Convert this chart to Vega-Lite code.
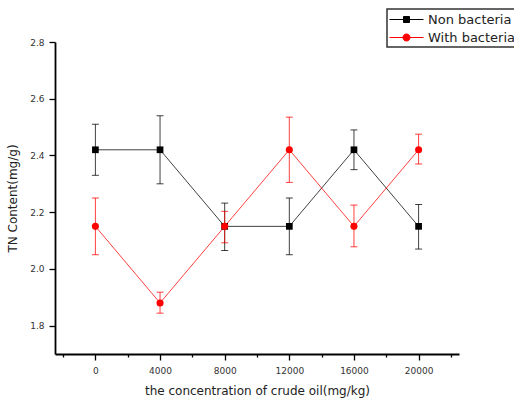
{
  "$schema": "https://vega.github.io/schema/vega-lite/v6.json",
  "width": 404,
  "height": 312,
  "autosize": "none",
  "padding": {"left": 55, "top": 42, "right": 55, "bottom": 50},
  "background": "white",
  "config": {
    "view": {"stroke": null},
    "axis": {
      "grid": false,
      "domainColor": "#000",
      "domainWidth": 1.8,
      "tickColor": "#000",
      "tickWidth": 1.3,
      "labelFont": "DejaVu Sans",
      "labelFontSize": 9,
      "labelColor": "#333",
      "titleFont": "DejaVu Sans",
      "titleFontSize": 12,
      "titleFontWeight": "normal",
      "titleColor": "#222"
    },
    "legend": {
      "orient": "none",
      "legendX": 332,
      "legendY": -33,
      "strokeColor": "#333",
      "strokeWidth": 1.5,
      "padding": 2,
      "symbolSize": 256,
      "symbolOpacity": 1,
      "symbolStrokeWidth": 1,
      "labelFont": "DejaVu Sans",
      "labelFontSize": 13,
      "labelColor": "#222",
      "labelOffset": 22,
      "rowPadding": 2,
      "labelLimit": 200
    }
  },
  "data": {
    "values": [
      {"conc": 0, "series": "Non bacteria", "tn": 2.42, "lo": 2.33, "hi": 2.51},
      {"conc": 4000, "series": "Non bacteria", "tn": 2.42, "lo": 2.30, "hi": 2.54},
      {"conc": 8000, "series": "Non bacteria", "tn": 2.15, "lo": 2.065, "hi": 2.232},
      {"conc": 12000, "series": "Non bacteria", "tn": 2.15, "lo": 2.05, "hi": 2.25},
      {"conc": 16000, "series": "Non bacteria", "tn": 2.42, "lo": 2.35, "hi": 2.49},
      {"conc": 20000, "series": "Non bacteria", "tn": 2.15, "lo": 2.07, "hi": 2.227},
      {"conc": 0, "series": "With bacteria", "tn": 2.15, "lo": 2.05, "hi": 2.25},
      {"conc": 4000, "series": "With bacteria", "tn": 1.88, "lo": 1.844, "hi": 1.918},
      {"conc": 8000, "series": "With bacteria", "tn": 2.15, "lo": 2.092, "hi": 2.203},
      {"conc": 12000, "series": "With bacteria", "tn": 2.42, "lo": 2.305, "hi": 2.535},
      {"conc": 16000, "series": "With bacteria", "tn": 2.15, "lo": 2.078, "hi": 2.225},
      {"conc": 20000, "series": "With bacteria", "tn": 2.42, "lo": 2.37, "hi": 2.475}
    ]
  },
  "encoding": {
    "x": {
      "field": "conc", "type": "quantitative",
      "scale": {"domain": [-2500, 22500], "nice": false, "zero": false},
      "axis": {
        "title": "the concentration of crude oil(mg/kg)",
        "values": [-2000, 0, 2000, 4000, 6000, 8000, 10000, 12000, 14000, 16000, 18000, 20000, 22000],
        "labelExpr": "(datum.value % 4000 == 0 && datum.value >= 0 && datum.value <= 20000) ? format(datum.value, 'd') : ''",
        "tickSize": {"condition": {"test": "datum.value % 4000 != 0", "value": 3}, "value": 6},
        "labelPadding": 6,
        "titlePadding": 10
      }
    },
    "color": {
      "field": "series", "type": "nominal",
      "scale": {"domain": ["Non bacteria", "With bacteria"], "range": ["#000000", "#ff0000"]},
      "legend": {"title": null}
    }
  },
  "layer": [
    {
      "mark": {"type": "errorbar", "opacity": 0.75, "ticks": {"size": 7, "thickness": 1}, "rule": {"strokeWidth": 1}},
      "encoding": {
        "y": {"field": "lo", "type": "quantitative", "title": "TN Content(mg/g)", "scale": {"domain": [1.7, 2.8], "nice": false, "zero": false}},
        "y2": {"field": "hi"}
      }
    },
    {
      "mark": {"type": "line", "strokeWidth": 1, "opacity": 0.75},
      "encoding": {
        "y": {
          "field": "tn", "type": "quantitative",
          "title": "TN Content(mg/g)",
          "scale": {"domain": [1.7, 2.8], "nice": false, "zero": false},
          "axis": {
            "title": "TN Content(mg/g)",
            "values": [1.8, 1.9, 2.0, 2.1, 2.2, 2.3, 2.4, 2.5, 2.6, 2.7, 2.8],
            "labelExpr": "round(datum.value * 10) % 2 == 0 ? format(datum.value, '.1f') : ''",
            "tickSize": {"condition": {"test": "round(datum.value * 10) % 2 != 0", "value": 3}, "value": 6},
            "labelPadding": 5,
            "titlePadding": 10
          }
        }
      }
    },
    {
      "transform": [{"filter": "datum.series === 'Non bacteria'"}],
      "mark": {"type": "square", "opacity": 1, "size": 45},
      "encoding": {
        "y": {"field": "tn", "type": "quantitative", "title": "TN Content(mg/g)"}
      }
    },
    {
      "transform": [{"filter": "datum.series === 'With bacteria'"}],
      "mark": {"type": "circle", "opacity": 1, "size": 50},
      "encoding": {
        "y": {"field": "tn", "type": "quantitative", "title": "TN Content(mg/g)"}
      }
    },
    {
      "mark": {"type": "point", "filled": true, "opacity": 0, "size": 1},
      "encoding": {
        "y": {"field": "tn", "type": "quantitative", "title": "TN Content(mg/g)"},
        "shape": {
          "field": "series", "type": "nominal",
          "scale": {"domain": ["Non bacteria", "With bacteria"], "range": ["M-1,0H3.25M0.75,-0.375H1.5V0.375H0.75Z", "M-1,0H3.25M1.565,0A0.44,0.44 0 1,1 0.685,0A0.44,0.44 0 1,1 1.565,0Z"]},
          "legend": {
            "title": null,
            "encode": {
              "symbols": {
                "update": {
                  "stroke": {"scale": "color", "field": "value"},
                  "fill": {"scale": "color", "field": "value"},
                  "opacity": {"value": 1},
                  "fillOpacity": {"value": 1},
                  "strokeOpacity": {"value": 1}
                }
              }
            }
          }
        }
      }
    }
  ]
}
